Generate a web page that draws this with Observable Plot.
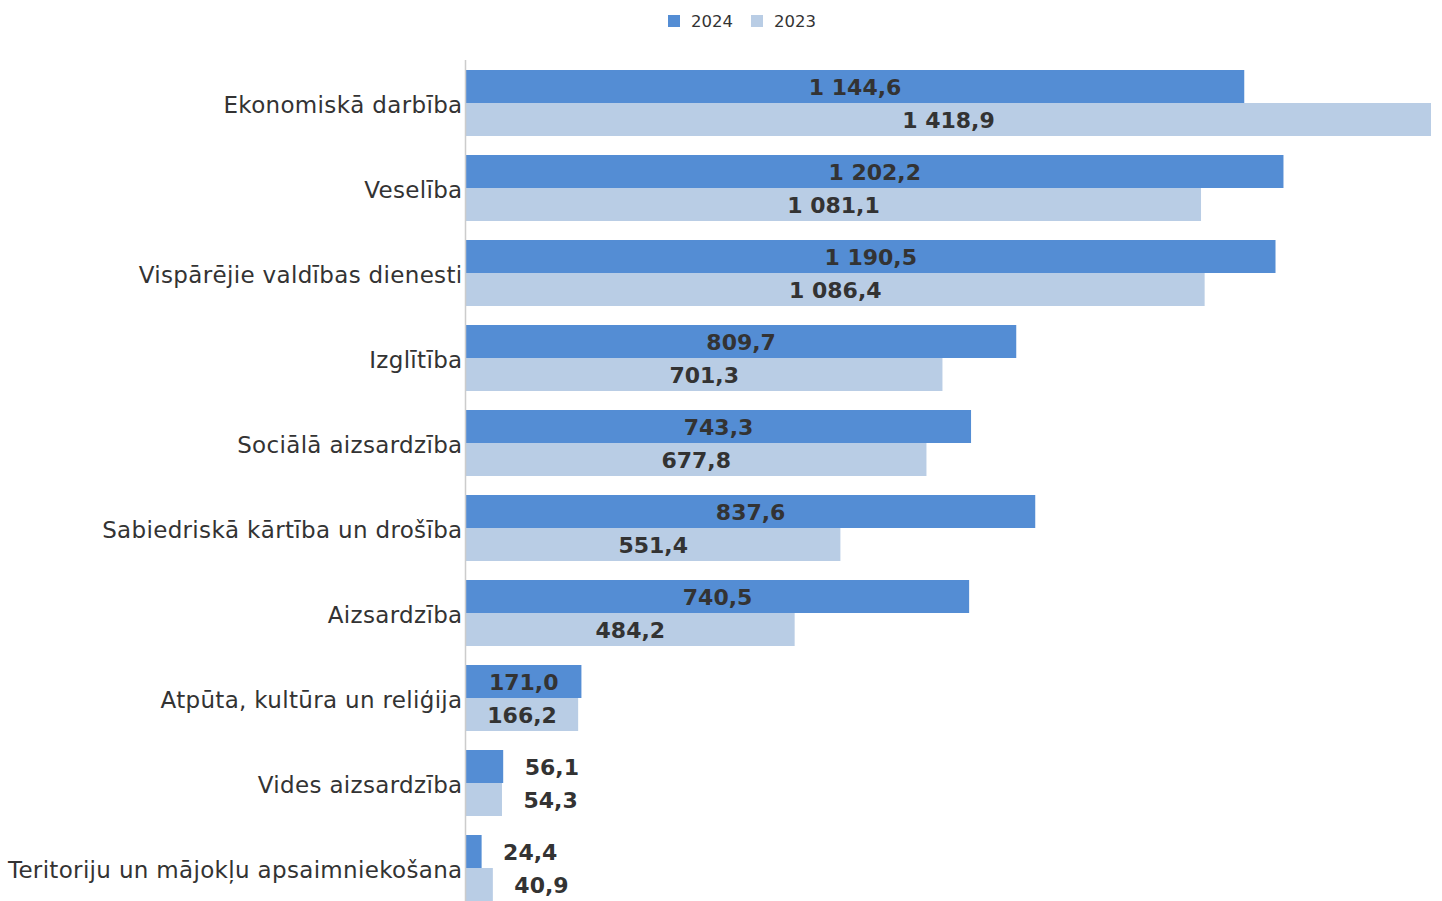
<!DOCTYPE html>
<html>
<head>
<meta charset="utf-8">
<script src="https://cdn.jsdelivr.net/npm/d3@7"></script>
<script src="https://cdn.jsdelivr.net/npm/@observablehq/plot@0.6"></script>
<style>
  html, body { margin: 0; padding: 0; background: #fff; }
  #legend { height: 40px; display: flex; justify-content: center; align-items: center; gap: 18px;
    font-family: "DejaVu Sans", sans-serif; font-size: 16.5px; color: #333; padding-left: 42px; padding-top: 2px; box-sizing: border-box; }
  .item { display: flex; align-items: center; gap: 11px; }
  .sw { width: 12px; height: 12px; display: inline-block; }
  g[aria-label="y-axis tick label"] text { letter-spacing: 0.33px; }
</style>
</head>
<body>
<div id="legend"></div>
<div id="chart"></div>
<script>
const categories = [
  "Ekonomiskā darbība",
  "Veselība",
  "Vispārējie valdības dienesti",
  "Izglītība",
  "Sociālā aizsardzība",
  "Sabiedriskā kārtība un drošība",
  "Aizsardzība",
  "Atpūta, kultūra un reliģija",
  "Vides aizsardzība",
  "Teritoriju un mājokļu apsaimniekošana"
];
const values2024 = [1144.6, 1202.2, 1190.5, 809.7, 743.3, 837.6, 740.5, 171.0, 56.1, 24.4];
const values2023 = [1418.9, 1081.1, 1086.4, 701.3, 677.8, 551.4, 484.2, 166.2, 54.3, 40.9];
const seriesNames = ["2024", "2023"];
const colors = ["#548DD4", "#B9CDE5"];

const fmt = d3.formatLocale({decimal: ",", thousands: " ", grouping: [3]}).format(",.1f");

const d24 = categories.map((c, i) => ({category: c, value: values2024[i]}));
const d23 = categories.map((c, i) => ({category: c, value: values2023[i]}));

// legend
const legend = document.getElementById("legend");
seriesNames.forEach((s, i) => {
  const it = document.createElement("div");
  it.className = "item";
  it.innerHTML = `<span class="sw" style="background:${colors[i]}"></span><span>${s}</span>`;
  legend.appendChild(it);
});

const half = 33;
const labelMarks = (data, dy) => [
  Plot.text(data.filter(d => d.value > 100), {
    x: d => d.value / 2, y: "category", dy, text: d => fmt(d.value),
    fill: "#333", fontWeight: "bold", fontSize: 22, textAnchor: "middle"
  }),
  Plot.text(data.filter(d => d.value <= 100), {
    x: "value", y: "category", dy, dx: 21, text: d => fmt(d.value),
    fill: "#333", fontWeight: "bold", fontSize: 22, textAnchor: "start"
  })
];

const chart = Plot.plot({
  width: 1442,
  height: 861,
  marginLeft: 465,
  marginRight: 11,
  marginTop: 20,
  marginBottom: 0,
  style: {fontFamily: "DejaVu Sans, sans-serif", background: "#fff"},
  x: {domain: [0, 1418.9], axis: null},
  y: {domain: categories, range: [30, 861], paddingInner: 0.224, paddingOuter: 0, label: null},
  marks: [
    Plot.barX(d24, {x: "value", y: "category", fill: colors[0], insetBottom: half, insetTop: 0}),
    Plot.barX(d23, {x: "value", y: "category", fill: colors[1], insetTop: half, insetBottom: 0}),
    Plot.ruleX([0], {stroke: "#ccc", strokeWidth: 1.5}),
    ...labelMarks(d24, -half / 2 + 1),
    ...labelMarks(d23, half / 2 + 1),
    Plot.axisY({tickSize: 0, tickPadding: 3, fontSize: 23, fill: "#333", label: null, dy: 2})
  ]
});
document.getElementById("chart").appendChild(chart);
</script>
</body>
</html>
